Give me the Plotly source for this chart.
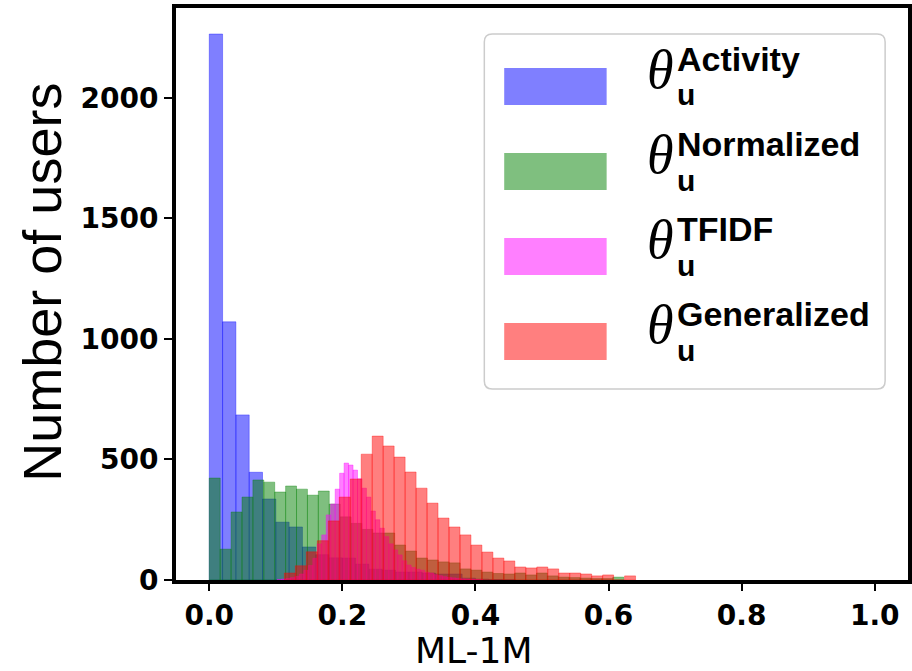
import plotly.graph_objects as go

# ---------------- data (histogram counts) ----------------
series_names = ["Activity", "Normalized", "TFIDF", "Generalized"]

activity_start = 0.0
activity_width = 0.02
activity_counts = [2265, 1071, 685, 447, 336, 240, 220, 137, 105, 92, 91, 66, 45, 41,
                   33, 33, 29, 25, 25, 8, 4, 2, 1]

normalized_start = 0.0
normalized_width = 0.01639
normalized_counts = [423, 128, 282, 344, 415, 406, 365, 390, 377, 352, 369, 315, 262, 235,
                     210, 195, 195, 145, 120, 91, 83, 75, 71, 46, 41, 33, 27, 25, 29, 21,
                     29, 17, 12, 10, 8, 6, 6, 12]

tfidf_start = 0.1018
tfidf_width = 0.00672
tfidf_counts = [2, 4, 6, 10, 15, 25, 40, 60, 90, 150, 187, 270, 315, 377, 443, 485, 477,
                456, 420, 381, 344, 286, 250, 215, 180, 150, 125, 104, 80, 62, 52, 45, 41,
                32, 29, 22, 18, 14, 11, 9, 7, 5, 4, 3, 2, 1]

generalized_start = 0.1129
generalized_width = 0.01649
generalized_counts = [29, 59, 117, 163, 245, 344, 419, 522, 597, 556, 510, 448, 381, 319,
                      257, 220, 187, 145, 116, 91, 79, 54, 50, 54, 46, 29, 29, 25, 17, 21,
                      0, 17]

x_ticks = [0.0, 0.2, 0.4, 0.6, 0.8, 1.0]
y_ticks = [0, 500, 1000, 1500, 2000]

colors = ["0,0,255", "0,128,0", "255,0,255", "255,0,0"]

# ---------------- figure ----------------
W, H = 912, 671
L, R, T, B = 176, 0, 8, 91
PW, PH = W - L - R, H - T - B


def px(xp):
    return (xp - L) / PW


def py(yp):
    return (H - B - yp) / PH


fig = go.Figure()
for start, width, counts, col, name in [
    (activity_start, activity_width, activity_counts, colors[0], series_names[0]),
    (normalized_start, normalized_width, normalized_counts, colors[1], series_names[1]),
    (tfidf_start, tfidf_width, tfidf_counts, colors[2], series_names[2]),
    (generalized_start, generalized_width, generalized_counts, colors[3], series_names[3]),
]:
    centers = [start + width * (i + 0.5) for i in range(len(counts))]
    fig.add_trace(go.Bar(
        x=centers, y=counts, width=[width] * len(counts), name=name,
        marker=dict(color=f"rgba({col},0.5)", line=dict(color=f"rgba({col},0.35)", width=1)),
        showlegend=False,
    ))

axis_font = dict(family="DejaVu Sans", size=28, color="black", weight="bold")
fig.update_layout(
    width=W, height=H, margin=dict(l=L, r=R, t=T, b=B),
    paper_bgcolor="white", plot_bgcolor="white", barmode="overlay",
    xaxis=dict(range=[-0.05, 1.05], tickvals=x_ticks, tickformat=".1f", ticks="outside",
               ticklen=7, tickwidth=2, tickcolor="black", showline=True, linewidth=4,
               linecolor="black", mirror=True, showgrid=False, zeroline=False,
               tickfont=axis_font),
    yaxis=dict(range=[0, 2373], tickvals=y_ticks, ticks="outside", ticklen=8, tickwidth=2,
               tickcolor="black", showline=True, linewidth=4, linecolor="black", mirror=True,
               showgrid=False, zeroline=False, tickfont=axis_font),
)

annotations = [
    dict(text="Number of users", x=px(41), y=py(282), xref="paper", yref="paper",
         textangle=-90, showarrow=False, xanchor="center", yanchor="middle",
         font=dict(family="Liberation Sans", size=54, color="black")),
    dict(text="ML-1M", x=px(475), y=py(650.5), xref="paper", yref="paper", showarrow=False,
         xanchor="center", yanchor="middle",
         font=dict(family="DejaVu Sans", size=36, color="black")),
]

# legend drawn as layout shapes / annotations
lx0, lx1, ly0, ly1, rr = 486, 889, 34, 389, 8
path = (f"M {px(lx0 + rr)},{py(ly0)} L {px(lx1 - rr)},{py(ly0)} "
        f"Q {px(lx1)},{py(ly0)} {px(lx1)},{py(ly0 + rr)} "
        f"L {px(lx1)},{py(ly1 - rr)} Q {px(lx1)},{py(ly1)} {px(lx1 - rr)},{py(ly1)} "
        f"L {px(lx0 + rr)},{py(ly1)} Q {px(lx0)},{py(ly1)} {px(lx0)},{py(ly1 - rr)} "
        f"L {px(lx0)},{py(ly0 + rr)} Q {px(lx0)},{py(ly0)} {px(lx0 + rr)},{py(ly0)} Z")
shapes = [dict(type="path", path=path, xref="paper", yref="paper",
               fillcolor="rgba(255,255,255,0.8)", line=dict(color="#cccccc", width=1.5))]

for k, (name, col) in enumerate(zip(series_names, colors)):
    y0 = 68 + 85 * k
    shapes.append(dict(type="rect", xref="paper", yref="paper", x0=px(506), x1=px(609),
                       y0=py(y0), y1=py(y0 + 37), fillcolor=f"rgba({col},0.5)",
                       line=dict(width=0)))
    annotations.append(dict(text="<i>θ</i>", x=px(648), y=py(y0 + 2), xref="paper",
                            yref="paper", showarrow=False, xanchor="left", yanchor="middle",
                            font=dict(family="Liberation Serif", size=54, color="black")))
    annotations.append(dict(text=name, x=px(678), y=py(y0 - 9), xref="paper", yref="paper",
                            showarrow=False, xanchor="left", yanchor="middle",
                            font=dict(family="Liberation Sans", size=34, color="black",
                                      weight="bold")))
    annotations.append(dict(text="u", x=px(678), y=py(y0 + 27), xref="paper", yref="paper",
                            showarrow=False, xanchor="left", yanchor="middle",
                            font=dict(family="Liberation Sans", size=30, color="black",
                                      weight="bold")))

fig.update_layout(shapes=shapes, annotations=annotations)
fig.write_html("out.html")
